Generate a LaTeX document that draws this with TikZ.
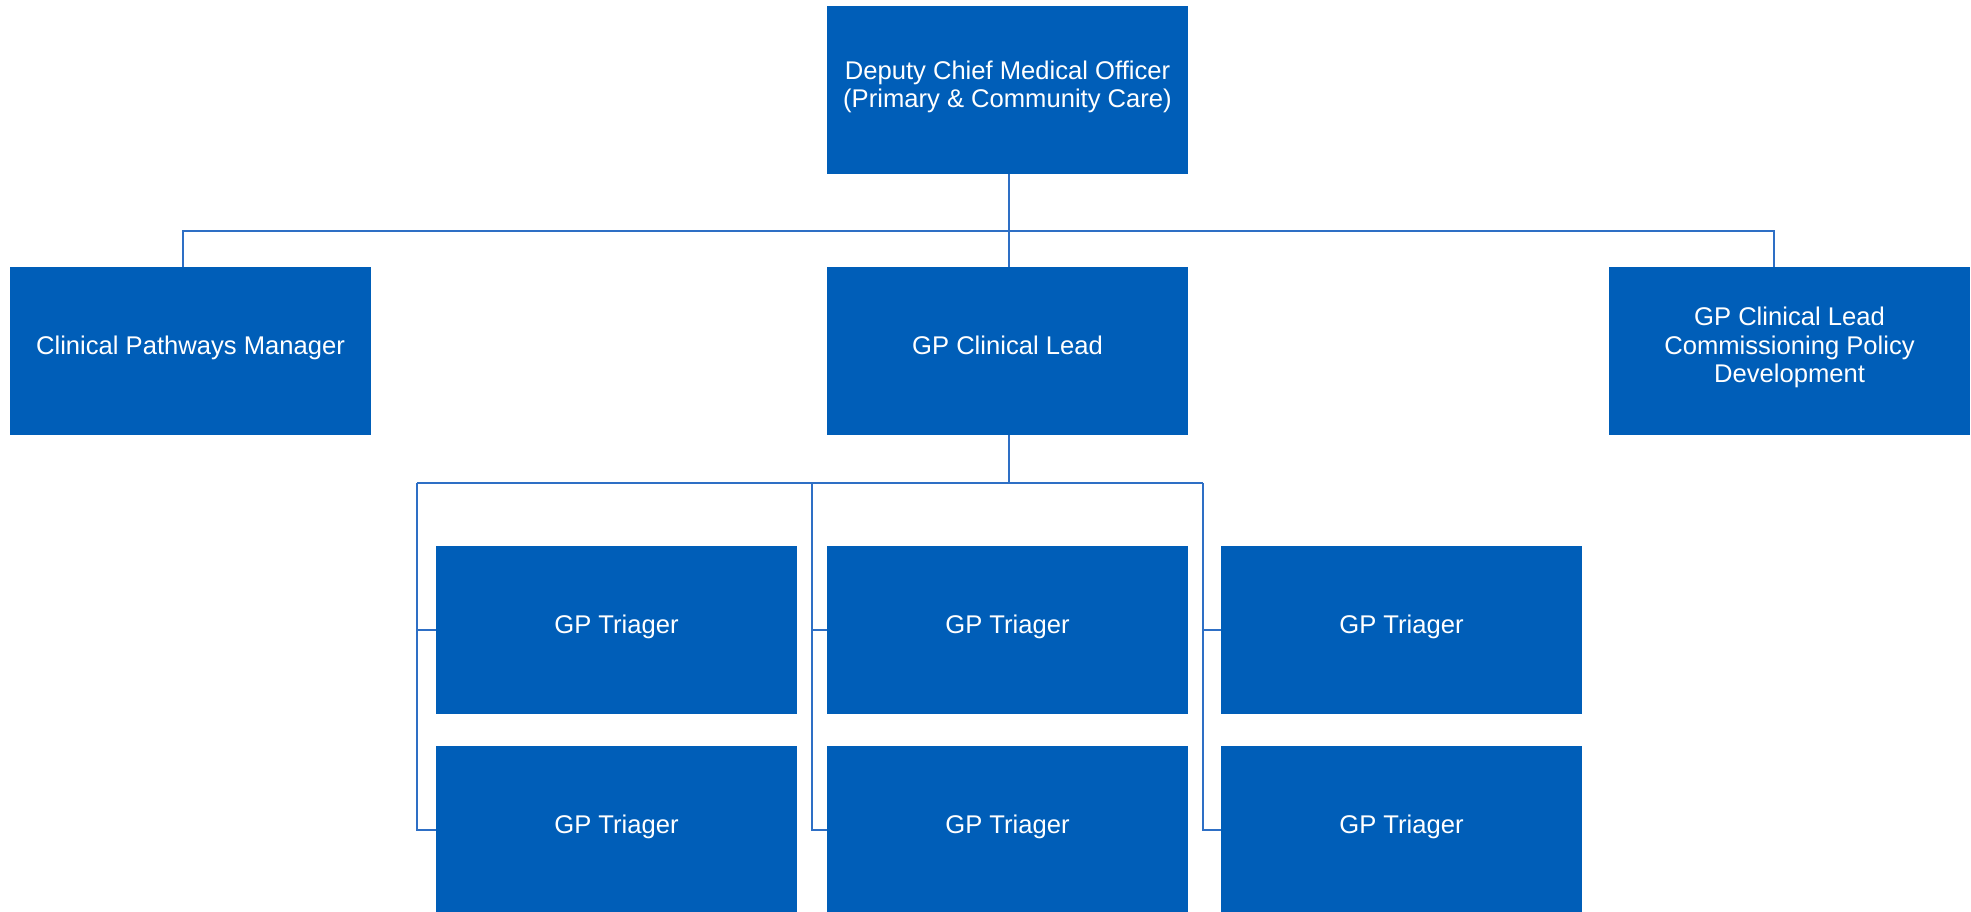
\documentclass[tikz,border=0pt]{standalone}
\usepackage{fontspec}
\setmainfont{Liberation Sans}
\definecolor{boxblue}{HTML}{005EB8}
\definecolor{lineblue}{HTML}{2E6FC5}
\begin{document}
\begin{tikzpicture}[x=1pt,y=-1pt,
  orgbox/.style={rectangle, fill=boxblue, draw=none, inner sep=0pt,
    minimum width=361pt, minimum height=168pt, text=white, align=center,
    text depth=12pt,
    font=\fontsize{25.6pt}{28.5pt}\selectfont},
  link/.style={draw=lineblue, line width=1.5pt}]
\useasboundingbox (0,0) rectangle (1971,911);
\node[orgbox] (top) at (1007.5,90) {Deputy Chief Medical Officer\\(Primary \& Community Care)};
\node[orgbox] (cpm) at (190.5,351) {Clinical Pathways Manager};
\node[orgbox] (gpcl) at (1007.5,351) {GP Clinical Lead};
\node[orgbox] (gpcp) at (1789.5,351) {GP Clinical Lead\\Commissioning Policy\\Development};
\node[orgbox] (t11) at (616.5,630) {GP Triager};
\node[orgbox] (t12) at (616.5,830) {GP Triager};
\node[orgbox] (t21) at (1007.5,630) {GP Triager};
\node[orgbox] (t22) at (1007.5,830) {GP Triager};
\node[orgbox] (t31) at (1401.5,630) {GP Triager};
\node[orgbox] (t32) at (1401.5,830) {GP Triager};
% upper bus
\coordinate (busT) at (1009,231);
\coordinate (busL) at (183,231);
\coordinate (busR) at (1774,231);
\draw[link] (top.south -| busT) -- (busT);
\draw[link] (cpm.north -| busL) -- (busL) -- (busR) -- (gpcp.north -| busR);
\draw[link] (busT) -- (gpcl.north -| busT);
% lower bus
\coordinate (busM) at (1009,483);
\coordinate (bus1) at (417,483);
\coordinate (bus2) at (812,483);
\coordinate (bus3) at (1203,483);
\draw[link] (gpcl.south -| busM) -- (busM);
\draw[link] (bus1) -- (bus3);
\draw[link] (bus1) |- (t11.west);
\draw[link] (bus1) |- (t12.west);
\draw[link] (bus2) |- (t21.west);
\draw[link] (bus2) |- (t22.west);
\draw[link] (bus3) |- (t31.west);
\draw[link] (bus3) |- (t32.west);
\end{tikzpicture}
\end{document}
